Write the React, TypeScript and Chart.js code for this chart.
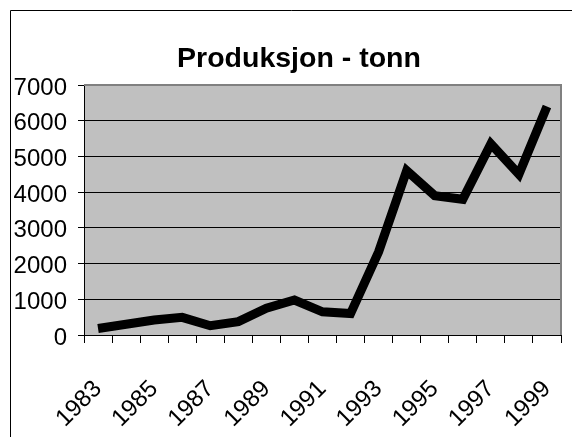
import React, { useEffect, useRef } from "react";
import { Chart, registerables } from "chart.js";

Chart.register(...registerables);

const years = ["1983", "1984", "1985", "1986", "1987", "1988", "1989", "1990", "1991", "1992", "1993", "1994", "1995", "1996", "1997", "1998", "1999"];
const production = [180, 300, 420, 495, 260, 375, 750, 980, 650, 600, 2330, 4600, 3900, 3800, 5350, 4500, 6400];
const yTickValues = [0, 1000, 2000, 3000, 4000, 5000, 6000, 7000];
const titleText = "Produksjon - tonn";

const W = 572;
const H = 437;
const FONT = "'Liberation Sans', Arial, sans-serif";

const decorPlugin = {
  id: "decor",
  beforeDraw(chart: any) {
    const { ctx, chartArea: a } = chart;
    ctx.save();
    ctx.fillStyle = "#ffffff";
    ctx.fillRect(0, 0, chart.width, chart.height);
    ctx.fillStyle = "#c0c0c0";
    ctx.fillRect(a.left, a.top, a.right - a.left, a.bottom - a.top);
    ctx.restore();
  },
  afterDraw(chart: any) {
    const { ctx, chartArea: a } = chart;
    ctx.save();
    ctx.strokeStyle = "#000000";
    ctx.lineWidth = 1;
    ctx.beginPath();
    ctx.moveTo(10.5, chart.height + 5);
    ctx.lineTo(10.5, 10.5);
    ctx.lineTo(chart.width + 5, 10.5);
    ctx.stroke();
    ctx.strokeStyle = "#808080";
    ctx.lineWidth = 2;
    ctx.beginPath();
    ctx.moveTo(a.left, a.top);
    ctx.lineTo(a.right, a.top);
    ctx.lineTo(a.right, a.bottom);
    ctx.stroke();
    ctx.fillStyle = "#000000";
    ctx.font = "bold 28.5px " + FONT;
    ctx.textAlign = "center";
    ctx.textBaseline = "alphabetic";
    ctx.fillText(titleText, 299, 67);
    ctx.restore();
  },
};

export default function App() {
  const ref = useRef<HTMLCanvasElement | null>(null);

  useEffect(() => {
    const canvas = ref.current;
    if (!canvas) return;
    const chart = new Chart(canvas, {
      type: "line",
      data: {
        labels: years,
        datasets: [
          {
            data: production,
            borderColor: "#000000",
            borderWidth: 9,
            pointRadius: 0,
            pointHoverRadius: 0,
            tension: 0,
            borderJoinStyle: "miter",
            borderCapStyle: "butt",
            fill: false,
          },
        ],
      },
      options: {
        responsive: false,
        animation: false,
        devicePixelRatio: 1,
        layout: { padding: { left: 0, right: 11, top: 85, bottom: 0 } },
        plugins: {
          legend: { display: false },
          title: { display: false },
          tooltip: { enabled: false },
        },
        scales: {
          x: {
            type: "category",
            offset: true,
            grid: {
              offset: true,
              drawOnChartArea: false,
              drawTicks: true,
              tickLength: 8,
              color: "#000000",
              lineWidth: 1,
            },
            border: { display: true, color: "#000000", width: 1 },
            ticks: {
              autoSkip: false,
              minRotation: 45,
              maxRotation: 45,
              padding: 32,
              color: "#000000",
              font: { family: FONT, size: 24 },
              callback: (_v: any, i: number) => (i % 2 === 0 ? years[i] : ""),
            },
            afterFit: (scale: any) => {
              scale.height = 102;
              scale.paddingLeft = 0;
              scale.paddingRight = 0;
            },
          },
          y: {
            min: 0,
            max: 7000,
            afterBuildTicks: (scale: any) => {
              scale.ticks = yTickValues.map((v) => ({ value: v }));
            },
            grid: {
              color: "#000000",
              lineWidth: 1,
              drawTicks: true,
              tickLength: 6,
            },
            border: { display: true, color: "#000000", width: 1 },
            ticks: {
              padding: 11,
              labelOffset: 3,
              color: "#000000",
              font: { family: FONT, size: 24 },
              callback: (v: any) => String(v),
            },
            afterFit: (scale: any) => {
              scale.width = 84;
              scale.paddingTop = 0;
              scale.paddingBottom = 0;
            },
          },
        },
      },
      plugins: [decorPlugin],
    });
    return () => chart.destroy();
  }, []);

  return (
    <div style={{ position: "fixed", left: 0, top: 0, width: W, height: H, background: "#fff" }}>
      <canvas ref={ref} width={W} height={H} style={{ display: "block", width: W, height: H }} />
    </div>
  );
}
